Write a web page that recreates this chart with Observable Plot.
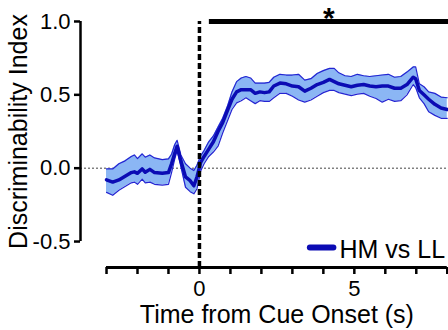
<!DOCTYPE html>
<html><head><meta charset="utf-8">
<script src="https://cdn.jsdelivr.net/npm/d3@7"></script>
<script src="https://cdn.jsdelivr.net/npm/@observablehq/plot@0.6"></script>
<style>
body{margin:0;background:#fff}
svg{font-family:"Liberation Sans",Arial,sans-serif}
</style>
</head><body><div id="chart"></div>
<script>
// time from cue onset (s)
const time = [-3.0,-2.8,-2.6,-2.4,-2.2,-2.1,-2.0,-1.85,-1.75,-1.6,-1.45,-1.2,-1.0,-0.9,-0.8,-0.72,-0.6,-0.45,-0.3,-0.18,-0.08,0.04,0.15,0.3,0.45,0.6,0.75,0.9,1.05,1.2,1.35,1.5,1.65,1.8,1.95,2.1,2.25,2.4,2.6,2.8,3.0,3.2,3.4,3.6,3.8,4.0,4.2,4.35,4.5,4.7,4.9,5.1,5.3,5.5,5.7,5.9,6.1,6.3,6.5,6.7,6.9,6.98,7.1,7.25,7.4,7.6,7.8,8.0];
// mean discriminability index (HM vs LL)
const meanDI = [-0.08,-0.095,-0.08,-0.055,-0.03,-0.025,-0.035,-0.005,-0.028,-0.008,-0.03,-0.035,-0.03,0.03,0.10,0.15,0.05,-0.06,-0.085,-0.12,-0.06,0.04,0.08,0.13,0.18,0.25,0.31,0.39,0.47,0.52,0.535,0.535,0.535,0.51,0.52,0.515,0.52,0.56,0.58,0.575,0.56,0.555,0.525,0.545,0.57,0.585,0.605,0.59,0.575,0.565,0.555,0.565,0.57,0.56,0.555,0.56,0.56,0.545,0.545,0.57,0.62,0.61,0.53,0.5,0.47,0.435,0.41,0.40];
// upper edge of error band
const upperDI = [-0.005,-0.005,0.03,0.05,0.08,0.09,0.065,0.098,0.075,0.09,0.07,0.058,0.064,0.095,0.16,0.19,0.09,0.03,0.0,-0.016,0.02,0.085,0.12,0.18,0.22,0.28,0.34,0.42,0.52,0.59,0.615,0.625,0.615,0.58,0.58,0.58,0.585,0.62,0.64,0.635,0.635,0.64,0.60,0.61,0.645,0.665,0.68,0.68,0.65,0.63,0.625,0.64,0.63,0.625,0.63,0.635,0.64,0.62,0.625,0.655,0.69,0.69,0.575,0.555,0.52,0.51,0.485,0.48];
// lower edge of error band
const lowerDI = [-0.165,-0.185,-0.15,-0.125,-0.1,-0.095,-0.11,-0.075,-0.1,-0.095,-0.11,-0.115,-0.11,-0.03,0.06,0.12,0.01,-0.13,-0.16,-0.175,-0.14,-0.02,0.03,0.08,0.11,0.15,0.24,0.32,0.4,0.445,0.46,0.48,0.46,0.44,0.46,0.455,0.455,0.48,0.51,0.51,0.49,0.465,0.45,0.465,0.49,0.515,0.53,0.53,0.515,0.505,0.495,0.505,0.51,0.49,0.475,0.45,0.47,0.455,0.46,0.5,0.57,0.55,0.48,0.44,0.385,0.36,0.34,0.34];

const yTicks = [-0.5, 0, 0.5, 1.0];
const xTicks = [-3,-2,-1,0,1,2,3,4,5,6,7,8];
const xTickLabels = [0, 5];
const xTitle = "Time from Cue Onset (s)";
const yTitle = "Discriminability Index";
const seriesLabel = "HM vs LL";
const sigStart = 0.32, sigEnd = 8.04, sigLevel = 1.0;
const starLabel = "*";

const data = time.map((t, i) => ({t, m: meanDI[i], hi: upperDI[i], lo: lowerDI[i]}));

const xDomain = [-3.84, 8.04];
const yDomain = [-0.677, 1.143];
const dark = "#0b0bb4", edge = "#2424d2", fillC = "#8bb6f4";

const chart = Plot.plot({
  width: 448, height: 330,
  marginLeft: 80, marginRight: 0, marginTop: 0, marginBottom: 63,
  x: {domain: xDomain},
  y: {domain: yDomain},
  style: {fontFamily: '"Liberation Sans",Arial,sans-serif', color: "#000", overflow: "visible"},
  marks: [
    Plot.ruleY([0], {x1: xDomain[0], x2: xDomain[1], stroke: "#444", strokeWidth: 1, strokeDasharray: "2,2"}),
    Plot.areaY(data, {x: "t", y1: "lo", y2: "hi", fill: fillC, fillOpacity: 1}),
    Plot.line(data, {x: "t", y: "hi", stroke: edge, strokeWidth: 1.2}),
    Plot.line(data, {x: "t", y: "lo", stroke: edge, strokeWidth: 1.2}),
    Plot.line(data, {x: "t", y: "m", stroke: dark, strokeWidth: 3.5}),
    Plot.ruleX([0], {y1: yDomain[0], y2: sigLevel, stroke: "#000", strokeWidth: 3.5, strokeDasharray: "6,3"}),
    Plot.ruleY([sigLevel], {x1: sigStart, x2: sigEnd, stroke: "#000", strokeWidth: 5}),
    Plot.text([starLabel], {x: (sigStart + sigEnd) / 2, y: sigLevel, dy: -3, fontSize: 30, fontWeight: "bold", lineAnchor: "middle"}),
    // axes
    Plot.ruleX([xDomain[0]], {y1: -0.5, y2: 1.0, stroke: "#000", strokeWidth: 2.5}),
    Plot.axisY({ticks: yTicks, tickFormat: d => d.toFixed(1), tickSize: 6, tickPadding: 4, fontSize: 22, strokeWidth: 2.5, label: null}),
    Plot.ruleY([yDomain[0]], {x1: xTicks[0], x2: xTicks[xTicks.length - 1], stroke: "#000", strokeWidth: 3}),
    Plot.axisX({ticks: xTicks, tickFormat: d => xTickLabels.includes(d) ? String(d) : "", tickSize: 7, tickPadding: 6, fontSize: 22, strokeWidth: 2.5, label: null}),
    Plot.text([xTitle], {x: (xTicks[0] + xTicks[xTicks.length - 1]) / 2, frameAnchor: "bottom", lineAnchor: "middle", dy: 47, fontSize: 25}),
    Plot.text([yTitle], {y: (yTicks[0] + yTicks[yTicks.length - 1]) / 2, frameAnchor: "left", textAnchor: "middle", lineAnchor: "middle", dx: -62, rotate: -90, fontSize: 25}),
    // legend
    Plot.ruleY([-0.54], {x1: 3.58, x2: 4.34, stroke: dark, strokeWidth: 6, strokeLinecap: "round"}),
    Plot.text([seriesLabel], {x: 4.52, y: -0.557, textAnchor: "start", fontSize: 25})
  ]
});
document.getElementById("chart").appendChild(chart);
</script>
</body></html>
